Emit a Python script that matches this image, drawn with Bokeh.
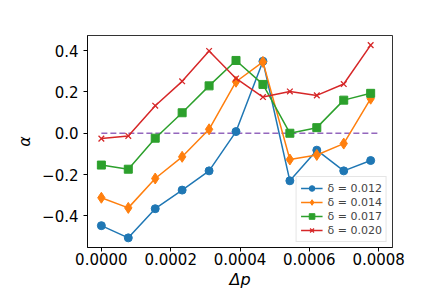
from bokeh.plotting import figure
from bokeh.embed import file_html
from bokeh.resources import INLINE
from bokeh.models import FixedTicker, Legend, LegendItem

dp = [0.0, 0.0000777, 0.0001554, 0.0002331, 0.0003108, 0.0003885,
      0.0004662, 0.0005439, 0.0006216, 0.0006993, 0.000777]
a_012 = [-0.447, -0.506, -0.365, -0.275, -0.182, 0.008, 0.348, -0.230, -0.082, -0.182, -0.132]
a_014 = [-0.312, -0.361, -0.219, -0.114, 0.019, 0.249, 0.345, -0.127, -0.105, -0.050, 0.167]
a_017 = [-0.154, -0.174, -0.024, 0.099, 0.229, 0.352, 0.236, 0.000, 0.027, 0.160, 0.193]
a_020 = [-0.026, -0.013, 0.133, 0.251, 0.398, 0.265, 0.175, 0.202, 0.183, 0.238, 0.426]
labels = ["δ = 0.012", "δ = 0.014", "δ = 0.017", "δ = 0.020"]
ref_x = [0.0, 0.0008]
ref_y = [0.0, 0.0]

x_ticks = [0.0, 0.0002, 0.0004, 0.0006, 0.0008]
x_tick_labels = ["0.0000", "0.0002", "0.0004", "0.0006", "0.0008"]
y_ticks = [-0.4, -0.2, 0.0, 0.2, 0.4]
y_tick_labels = ["−0.4", "−0.2", "0.0", "0.2", "0.4"]

p = figure(width=436, height=291, output_backend="svg", toolbar_location=None,
           x_range=(-0.00004, 0.00084), y_range=(-0.5526, 0.4726),
           min_border_left=87, min_border_right=44, min_border_top=35, min_border_bottom=44)
p.xgrid.visible = False
p.ygrid.visible = False
p.outline_line_color = "black"
p.outline_line_width = 1
p.outline_line_alpha = 0.8

colors = ["#1f77b4", "#ff7f0e", "#2ca02c", "#d62728"]
series = [a_012, a_014, a_017, a_020]
markers = ["circle", "diamond", "square", "x"]
sizes = [8, 11, 8, 8]

p.line(ref_x, ref_y, color="#9467bd", line_width=1.5, line_dash="6 3")

items = []
for ys, c, m, s, lab in zip(series, colors, markers, sizes, labels):
    r1 = p.line(dp, ys, color=c, line_width=1.5)
    if m == "x":
        r2 = p.scatter(dp, ys, marker=m, size=s, line_color=c, line_width=1.3)
    else:
        r2 = p.scatter(dp, ys, marker=m, size=s, fill_color=c, line_color=c)
    items.append(LegendItem(label=lab, renderers=[r1, r2]))

legend = Legend(items=items, location="bottom_right")
legend.margin = 5
legend.padding = 4
legend.spacing = 0
legend.label_height = 14
legend.glyph_height = 14
legend.glyph_width = 22
legend.label_standoff = 5
legend.label_text_font_size = "11px"
legend.label_text_font = "DejaVu Sans"
legend.border_line_color = "#cccccc"
legend.background_fill_alpha = 0.8
p.add_layout(legend)

for ax in (p.xaxis[0], p.yaxis[0]):
    ax.major_label_text_font = "DejaVu Sans"
    ax.major_label_text_font_size = "15px"
    ax.major_label_text_color = "black"
    ax.axis_label_text_font = "DejaVu Sans"
    ax.axis_label_text_font_size = "16px"
    ax.axis_label_text_font_style = "italic"
    ax.axis_label_text_color = "black"
    ax.minor_tick_line_color = None
    ax.major_tick_out = 4
    ax.major_tick_in = 0
    ax.major_tick_line_color = "black"
    ax.axis_line_color = "black"
    ax.axis_line_alpha = 0.8

p.xaxis.major_label_standoff = 1
p.xaxis.axis_label_standoff = 2
p.xaxis.ticker = FixedTicker(ticks=x_ticks)
p.xaxis.major_label_overrides = dict(zip(x_ticks, x_tick_labels))
p.yaxis.ticker = FixedTicker(ticks=y_ticks)
p.yaxis.major_label_overrides = dict(zip(y_ticks, y_tick_labels))
p.xaxis.axis_label = "Δp"
p.yaxis.axis_label = "α"
p.yaxis.major_label_orientation = "horizontal"

open("out.html", "w").write(file_html(p, INLINE))
